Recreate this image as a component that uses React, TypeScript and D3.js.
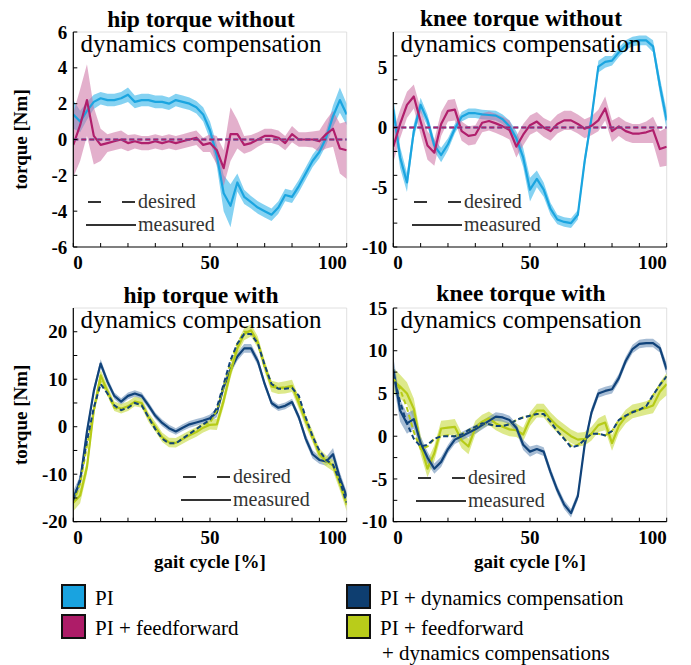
import React from 'react';
import * as d3 from 'd3';

// gait cycle sample points [%]
const gait = [0, 2.5, 5, 7.5, 10, 12.5, 15, 17.5, 20, 22.5, 25, 27.5, 30, 32.5, 35, 37.5, 40, 42.5, 45, 47.5, 50, 52.5, 55, 57.5, 60, 62.5, 65, 67.5, 70, 72.5, 75, 77.5, 80, 82.5, 85, 87.5, 90, 92.5, 95, 97.5, 100];

// hip torque without dynamics compensation
const hipNoDcPI = [1.4, 1.0, 1.6, 2.1, 2.3, 2.2, 2.2, 2.3, 2.5, 2.1, 2.2, 2.2, 2.1, 2.1, 2.0, 2.2, 2.1, 2.0, 1.8, 1.4, 0.5, -0.9, -3.0, -3.7, -2.4, -3.2, -3.5, -3.8, -4.0, -4.2, -3.8, -3.1, -3.2, -2.6, -1.9, -1.2, -0.7, 0.1, 1.3, 2.2, 1.4];
const hipNoDcPISd = [0.8, 0.6, 0.5, 0.4, 0.35, 0.35, 0.35, 0.35, 0.4, 0.35, 0.35, 0.35, 0.35, 0.35, 0.35, 0.35, 0.35, 0.35, 0.35, 0.4, 0.5, 0.6, 1.0, 1.2, 0.5, 0.4, 0.35, 0.35, 0.35, 0.35, 0.35, 0.35, 0.35, 0.35, 0.35, 0.35, 0.35, 0.4, 0.6, 0.7, 0.6];
const hipNoDcFF = [-0.3, 0.8, 2.2, 0.2, -0.3, -0.2, -0.1, 0.0, -0.2, -0.1, -0.2, -0.2, -0.1, -0.2, -0.1, -0.2, -0.1, 0.0, 0.1, -0.3, -0.2, -0.6, -1.6, 0.3, 0.3, -0.3, -0.2, 0.0, 0.2, 0.2, 0.1, -0.2, 0.3, 0.0, 0.0, 0.0, -0.1, 0.3, 0.6, -0.5, -0.6];
const hipNoDcFFSd = [1.8, 2.0, 2.0, 1.6, 0.9, 0.5, 0.5, 0.5, 0.45, 0.4, 0.4, 0.4, 0.4, 0.4, 0.4, 0.4, 0.4, 0.4, 0.4, 0.4, 0.5, 0.8, 1.0, 1.5, 0.8, 0.5, 0.45, 0.4, 0.4, 0.4, 0.4, 0.4, 0.45, 0.4, 0.4, 0.45, 0.6, 0.8, 1.0, 1.4, 1.6];
const hipNoDcDesired = [0, 0, 0, 0, 0, 0, 0, 0, 0, 0, 0, 0, 0, 0, 0, 0, 0, 0, 0, 0, 0, 0, 0, 0, 0, 0, 0, 0, 0, 0, 0, 0, 0, 0, 0, 0, 0, 0, 0, 0, 0];

// knee torque without dynamics compensation
const kneeNoDcPI = [1.5, -2.5, -4.6, -0.3, 1.9, 0.6, -1.5, -2.3, -1.4, -0.1, 0.9, 1.2, 1.2, 1.1, 1.05, 1.0, 0.7, 0.1, -0.9, -2.5, -5.2, -4.3, -5.2, -6.8, -7.7, -7.9, -8.0, -7.3, -2.8, 0.8, 5.1, 5.5, 5.6, 6.3, 6.9, 7.2, 7.3, 7.3, 6.8, 3.5, 0.6];
const kneeNoDcPISd = [1.0, 0.9, 0.8, 0.6, 0.6, 0.5, 0.5, 0.6, 0.5, 0.4, 0.4, 0.4, 0.4, 0.4, 0.4, 0.4, 0.4, 0.5, 0.6, 0.8, 1.0, 0.7, 0.6, 0.5, 0.4, 0.4, 0.4, 0.4, 0.5, 0.5, 0.5, 0.5, 0.4, 0.4, 0.4, 0.4, 0.4, 0.4, 0.5, 0.7, 0.8];
const kneeNoDcFF = [-1.6, 0.3, 1.9, 2.6, 0.5, -1.5, -2.1, 0.3, 1.4, 1.5, -0.3, -0.7, -0.6, 0.4, 0.55, 0.35, 0.1, -0.2, -1.6, -0.6, 0.2, 0.5, 0.0, -0.3, 0.3, 0.6, 0.6, 0.3, -0.1, 0.15, 0.6, 1.6, -0.3, 0.1, -0.3, -0.5, -0.5, -0.4, -0.2, -1.8, -1.6];
const kneeNoDcFFSd = [1.3, 1.2, 1.1, 1.0, 1.1, 1.2, 1.1, 1.0, 0.9, 0.9, 0.8, 0.8, 0.8, 0.8, 0.8, 0.8, 0.8, 0.8, 0.9, 0.9, 0.8, 0.8, 0.8, 0.8, 0.8, 0.8, 0.8, 0.8, 0.8, 0.8, 0.9, 1.0, 0.9, 0.8, 0.8, 0.8, 0.8, 0.9, 1.1, 1.5, 1.6];
const kneeNoDcDesired = [0, 0, 0, 0, 0, 0, 0, 0, 0, 0, 0, 0, 0, 0, 0, 0, 0, 0, 0, 0, 0, 0, 0, 0, 0, 0, 0, 0, 0, 0, 0, 0, 0, 0, 0, 0, 0, 0, 0, 0, 0];

// hip torque with dynamics compensation
const hipDcPI = [-15.0, -11.5, -1.0, 7.5, 13.3, 9.5, 6.5, 5.3, 6.5, 7.0, 6.5, 4.5, 2.3, 0.8, -0.3, -1.0, -0.2, 0.5, 0.9, 1.3, 1.8, 3.0, 8.4, 12.0, 14.8, 16.5, 16.5, 13.8, 9.0, 5.0, 4.0, 4.4, 5.2, 2.0, -2.5, -5.8, -7.0, -7.3, -5.8, -10.8, -14.7];
const hipDcPISd = [1.5, 1.2, 1.0, 0.9, 0.9, 0.8, 0.7, 0.7, 0.7, 0.7, 0.7, 0.7, 0.7, 0.7, 0.7, 0.7, 0.7, 0.7, 0.7, 0.7, 0.8, 1.0, 1.0, 0.9, 0.9, 0.9, 0.9, 0.9, 0.8, 0.7, 0.7, 0.7, 0.7, 0.8, 0.9, 0.9, 0.8, 0.9, 1.3, 1.2, 1.0];
const hipDcFF = [-16.0, -14.5, -8.5, 3.5, 10.8, 7.5, 4.3, 3.8, 4.3, 5.3, 5.0, 2.0, 0.0, -2.2, -3.3, -3.4, -2.6, -1.8, -1.1, -0.2, 0.4, 0.5, 5.5, 11.5, 16.5, 19.5, 20.3, 17.8, 12.8, 8.5, 8.1, 8.3, 8.6, 5.0, 1.2, -2.0, -5.8, -7.2, -8.2, -12.0, -16.2];
const hipDcFFSd = [1.8, 1.6, 1.4, 1.3, 1.2, 1.1, 1.0, 1.0, 1.0, 1.0, 1.0, 1.0, 1.0, 1.0, 1.0, 1.0, 1.0, 1.0, 1.0, 1.0, 1.0, 1.2, 1.3, 1.3, 1.3, 1.3, 1.3, 1.2, 1.2, 1.2, 1.2, 1.3, 1.3, 1.2, 1.2, 1.2, 1.2, 1.2, 1.2, 1.4, 1.6];
const hipDcDesiredPI = [-15.5, -11.0, -3.0, 4.0, 9.0, 7.0, 4.5, 3.5, 4.0, 5.0, 4.5, 2.0, -0.5, -2.5, -3.5, -3.5, -2.5, -1.5, -0.5, 0.5, 1.5, 4.0, 9.0, 14.0, 17.5, 19.5, 19.5, 17.5, 13.0, 9.0, 8.0, 8.0, 8.2, 6.5, 2.0, -2.0, -5.0, -7.0, -8.0, -11.5, -16.0];
const hipDcDesiredFF = [-16.0, -12.0, -4.0, 3.5, 9.5, 7.0, 4.0, 3.5, 4.0, 5.0, 4.5, 2.0, -0.5, -2.5, -3.5, -3.5, -2.5, -1.5, -0.5, 0.5, 0.8, 3.5, 8.5, 13.5, 17.5, 20.0, 20.0, 17.5, 12.5, 9.0, 8.2, 8.2, 8.5, 6.0, 1.5, -2.5, -5.5, -7.2, -8.2, -12.0, -16.5];

// knee torque with dynamics compensation
const kneeDcPI = [7.8, 3.0, 1.5, 2.0, -0.8, -2.5, -3.8, -3.0, -1.5, -0.4, 0.0, 0.4, 0.8, 1.3, 1.8, 2.3, 2.2, 1.9, 1.0, -1.0, -1.8, -1.5, -1.8, -4.2, -6.3, -8.0, -9.0, -7.0, -1.0, 2.8, 5.0, 5.3, 5.5, 6.8, 8.8, 10.2, 10.8, 10.9, 10.9, 10.3, 7.8];
const kneeDcPISd = [1.5, 1.3, 1.2, 1.1, 0.8, 0.7, 0.6, 0.6, 0.5, 0.5, 0.5, 0.5, 0.5, 0.5, 0.5, 0.5, 0.5, 0.5, 0.5, 0.6, 0.6, 0.5, 0.5, 0.5, 0.5, 0.5, 0.5, 0.5, 0.5, 0.5, 0.5, 0.5, 0.5, 0.5, 0.5, 0.5, 0.5, 0.5, 0.5, 0.5, 0.7];
const kneeDcFF = [6.5, 5.8, 5.0, 3.2, -1.0, -3.8, -2.0, 0.9, 1.0, 1.1, -0.5, -1.2, 1.0, 1.7, 2.1, 1.5, 1.1, 0.8, 0.7, 0.2, 2.0, 3.0, 3.0, 2.0, 1.2, 0.6, 0.0, -0.4, -0.3, 0.3, 1.3, 1.6, -0.8, 1.2, 2.3, 2.9, 3.1, 3.3, 3.6, 5.2, 6.1];
const kneeDcFFSd = [1.5, 1.4, 1.3, 1.2, 1.1, 1.0, 0.9, 0.9, 0.9, 0.9, 0.9, 0.9, 0.8, 0.8, 0.8, 0.8, 0.8, 0.8, 0.8, 0.8, 0.8, 0.8, 0.8, 0.8, 0.8, 0.8, 0.8, 0.8, 0.8, 0.8, 0.8, 0.9, 0.9, 0.8, 0.8, 0.8, 0.8, 0.8, 0.9, 1.1, 1.3];
const kneeDcDesiredPI = [7.3, 4.0, 1.5, -0.3, -1.2, -1.0, -0.3, 0.0, 0.0, 0.0, 0.2, 0.7, 1.1, 1.5, 1.4, 1.2, 1.2, 1.4, 1.9, 2.2, 2.4, 2.6, 2.6, 1.7, 0.6, -0.3, -1.3, -1.1, -0.4, 0.3, 0.3, 0.1, 0.6, 1.9, 2.4, 2.8, 3.1, 3.5, 4.8, 6.0, 7.0];
const kneeDcDesiredFF = [6.8, 5.5, 3.3, 0.5, -1.5, -1.2, -0.3, 0.0, 0.1, 0.0, 0.2, 0.7, 1.1, 1.5, 1.4, 1.2, 1.2, 1.4, 1.9, 2.2, 2.4, 2.6, 2.6, 1.7, 0.6, -0.3, -1.1, -1.0, -0.4, 0.3, 0.3, 0.1, 0.6, 1.9, 2.4, 2.8, 3.1, 3.5, 4.8, 6.0, 7.0];

// axes
const xTicks = [0, 10, 20, 30, 40, 50, 60, 70, 80, 90, 100];
const xTickLabels = [0, 50, 100];
const hipNoDcYTicks = [-6, -4, -2, 0, 2, 4, 6];
const hipNoDcYLabels = [-6, -4, -2, 0, 2, 4, 6];
const kneeNoDcYTicks = [-10, -8, -6, -4, -2, 0, 2, 4, 6];
const kneeNoDcYLabels = [-10, -5, 0, 5];
const hipDcYTicks = [-20, -15, -10, -5, 0, 5, 10, 15, 20];
const hipDcYLabels = [-20, -10, 0, 10, 20];
const kneeDcYTicks = [-10, -7.5, -5, -2.5, 0, 2.5, 5, 7.5, 10, 12.5, 15];
const kneeDcYLabels = [-10, -5, 0, 5, 10, 15];

// legend
const legendLabels = ['PI', 'PI + feedforward', 'PI + dynamics compensation', 'PI + feedforward'];
const legendExtra = '+ dynamics compensations';
const legendColors = ['#19a3e0', '#ae1c68', '#0e3e70', '#b9cc1a'];

const C = {
  pi: { line: '#1ba5e0', band: '#5cc3ee', op: 0.75 },
  ff: { line: '#b01f6c', band: '#cc6fa2', op: 0.55 },
  dc: { line: '#11437a', band: '#6a8fb8', op: 0.6 },
  ffdc: { line: '#b6cb18', band: '#cfe05a', op: 0.7 },
};

const FONT = 'Liberation Serif, DejaVu Serif, Times New Roman, serif';

type Series = { values: number[]; sd: number[]; c: { line: string; band: string; op: number } };
type Desired = { values: number[]; color: string };
type Cfg = {
  id: string;
  left: number; right: number; top: number; bottom: number;
  domain: [number, number];
  yTicks: number[]; yLabels: number[];
  series: Series[];
  desired: Desired[];
  title1: string; title2: string;
  t1y: number; t2y: number;
  legX: number; legY: number;
  yLabel: boolean; xLabel: boolean;
};

const T = (p: any) => <text {...p} style={{ fontFamily: FONT }} />;

function Panel({ cfg }: { cfg: Cfg }) {
  const x = d3.scaleLinear().domain([0, 100]).range([cfg.left, cfg.right]);
  const y = d3.scaleLinear().domain(cfg.domain).range([cfg.bottom, cfg.top]);
  const line = d3.line<number>().x((_, i) => x(gait[i])).y((v) => y(v));
  const mkArea = (sd: number[]) =>
    d3.area<number>().x((_, i) => x(gait[i])).y0((v, i) => y(v - sd[i])).y1((v, i) => y(v + sd[i]));
  const cx = (cfg.left + cfg.right) / 2;
  return (
    <g>
      <defs>
        <clipPath id={cfg.id}>
          <rect x={cfg.left} y={cfg.top} width={cfg.right - cfg.left} height={cfg.bottom - cfg.top} />
        </clipPath>
      </defs>
      <line x1={cfg.left} x2={cfg.right} y1={cfg.top} y2={cfg.top} stroke="#d8d8d8" strokeWidth={0.8} />
      <line x1={cfg.right} x2={cfg.right} y1={cfg.top} y2={cfg.bottom} stroke="#d8d8d8" strokeWidth={0.8} />
      <g clipPath={`url(#${cfg.id})`}>
        {cfg.series.map((s, k) => (
          <path key={'b' + k} d={mkArea(s.sd)(s.values) || ''} fill={s.c.band} fillOpacity={s.c.op} stroke="none" />
        ))}
        {cfg.series.map((s, k) => (
          <path key={'l' + k} d={line(s.values) || ''} fill="none" stroke={s.c.line} strokeWidth={2.2} strokeLinejoin="round" />
        ))}
        {cfg.desired.map((d, k) => (
          <path key={'d' + k} d={line(d.values) || ''} fill="none" stroke={d.color} strokeWidth={2} strokeDasharray="5,3" />
        ))}
      </g>
      <line x1={cfg.left} x2={cfg.left} y1={cfg.top} y2={cfg.bottom} stroke="#000" strokeWidth={1.2} />
      <line x1={cfg.left} x2={cfg.right} y1={cfg.bottom} y2={cfg.bottom} stroke="#000" strokeWidth={1.2} />
      {xTicks.map((t) => (
        <line key={'xt' + t} x1={x(t)} x2={x(t)} y1={cfg.bottom} y2={cfg.bottom - 4} stroke="#000" strokeWidth={1} />
      ))}
      {cfg.yTicks.map((t) => (
        <line key={'yt' + t} x1={cfg.left} x2={cfg.left + 4} y1={y(t)} y2={y(t)} stroke="#000" strokeWidth={1} />
      ))}
      {xTickLabels.map((t, i) => (
        <T key={'xl' + t} x={x(t)} y={cfg.bottom + 22}
          textAnchor={i === 0 ? 'start' : i === xTickLabels.length - 1 ? 'end' : 'middle'}
          fontWeight="bold" fontSize={19}>{t}</T>
      ))}
      {cfg.yLabels.map((t) => (
        <T key={'yl' + t} x={cfg.left - 6} y={y(t)} dy="0.35em" textAnchor="end"
          fontWeight="bold" fontSize={19}>{t}</T>
      ))}
      <T x={cx - 9} y={cfg.t1y} textAnchor="middle" fontWeight="bold" fontSize={23.5}>{cfg.title1}</T>
      <T x={cx - 9} y={cfg.t2y} textAnchor="middle" fontSize={25}>{cfg.title2}</T>
      <line x1={cfg.legX} x2={cfg.legX + 48} y1={cfg.legY} y2={cfg.legY} stroke="#333" strokeWidth={2} strokeDasharray="13,21" />
      <T x={cfg.legX + 50} y={cfg.legY + 6} fontSize={20} fill="#333">desired</T>
      <line x1={cfg.legX - 2} x2={cfg.legX + 48} y1={cfg.legY + 23} y2={cfg.legY + 23} stroke="#333" strokeWidth={2} />
      <T x={cfg.legX + 50} y={cfg.legY + 29} fontSize={20} fill="#333">measured</T>
      {cfg.yLabel && (
        <T transform={`translate(20,${(cfg.top + cfg.bottom) / 2}) rotate(-90)`} textAnchor="middle" dy="0.35em"
          fontWeight="bold" fontSize={19}>torque [Nm]</T>
      )}
      {cfg.xLabel && (
        <T x={cx} y={cfg.bottom + 46} textAnchor="middle" fontWeight="bold" fontSize={19}>gait cycle [%]</T>
      )}
    </g>
  );
}

export default function App() {
  const panels: Cfg[] = [
    {
      id: 'c1', left: 73.3, right: 346.7, top: 32, bottom: 247, domain: [-6, 6],
      yTicks: hipNoDcYTicks, yLabels: hipNoDcYLabels,
      series: [
        { values: hipNoDcPI, sd: hipNoDcPISd, c: C.pi },
        { values: hipNoDcFF, sd: hipNoDcFFSd, c: C.ff },
      ],
      desired: [
        { values: hipNoDcDesired, color: C.pi.line },
        { values: hipNoDcDesired, color: C.ff.line },
      ],
      title1: 'hip torque without', title2: 'dynamics compensation', t1y: 27, t2y: 52,
      legX: 88, legY: 202, yLabel: true, xLabel: false,
    },
    {
      id: 'c2', left: 393.3, right: 666.7, top: 32, bottom: 247, domain: [-10, 8],
      yTicks: kneeNoDcYTicks, yLabels: kneeNoDcYLabels,
      series: [
        { values: kneeNoDcPI, sd: kneeNoDcPISd, c: C.pi },
        { values: kneeNoDcFF, sd: kneeNoDcFFSd, c: C.ff },
      ],
      desired: [
        { values: kneeNoDcDesired, color: C.pi.line },
        { values: kneeNoDcDesired, color: C.ff.line },
      ],
      title1: 'knee torque without', title2: 'dynamics compensation', t1y: 26, t2y: 52,
      legX: 414, legY: 202, yLabel: false, xLabel: false,
    },
    {
      id: 'c3', left: 73.3, right: 346.7, top: 308, bottom: 521.7, domain: [-20, 25],
      yTicks: hipDcYTicks, yLabels: hipDcYLabels,
      series: [
        { values: hipDcPI, sd: hipDcPISd, c: C.dc },
        { values: hipDcFF, sd: hipDcFFSd, c: C.ffdc },
      ],
      desired: [
        { values: hipDcDesiredFF, color: C.ffdc.line },
        { values: hipDcDesiredPI, color: C.dc.line },
      ],
      title1: 'hip torque with', title2: 'dynamics compensation', t1y: 303, t2y: 328,
      legX: 183, legY: 477, yLabel: true, xLabel: true,
    },
    {
      id: 'c4', left: 393.3, right: 666.7, top: 308, bottom: 521.7, domain: [-10, 15],
      yTicks: kneeDcYTicks, yLabels: kneeDcYLabels,
      series: [
        { values: kneeDcFF, sd: kneeDcFFSd, c: C.ffdc },
        { values: kneeDcPI, sd: kneeDcPISd, c: C.dc },
      ],
      desired: [
        { values: kneeDcDesiredFF, color: C.ffdc.line },
        { values: kneeDcDesiredPI, color: C.dc.line },
      ],
      title1: 'knee torque with', title2: 'dynamics compensation', t1y: 301, t2y: 328,
      legX: 418, legY: 478, yLabel: false, xLabel: true,
    },
  ];

  const legendPos = [
    { x: 62, y: 585 },
    { x: 62, y: 615 },
    { x: 347, y: 585 },
    { x: 347, y: 615 },
  ];

  return (
    <svg width={691} height={665} style={{ position: 'absolute', left: 0, top: 0, background: '#fff', fontFamily: FONT }}>
      <rect x={0} y={0} width={691} height={665} fill="#fff" />
      {panels.map((p) => (
        <Panel key={p.id} cfg={p} />
      ))}
      {legendLabels.map((lab, i) => (
        <g key={'lg' + i}>
          <rect x={legendPos[i].x} y={legendPos[i].y} width={23} height={23} fill={legendColors[i]} stroke="#111" strokeWidth={2} />
          <T x={legendPos[i].x + 33} y={legendPos[i].y + 20} fontSize={21}>{lab}</T>
        </g>
      ))}
      <T x={legendPos[3].x + 35} y={legendPos[3].y + 45} fontSize={21}>{legendExtra}</T>
    </svg>
  );
}
